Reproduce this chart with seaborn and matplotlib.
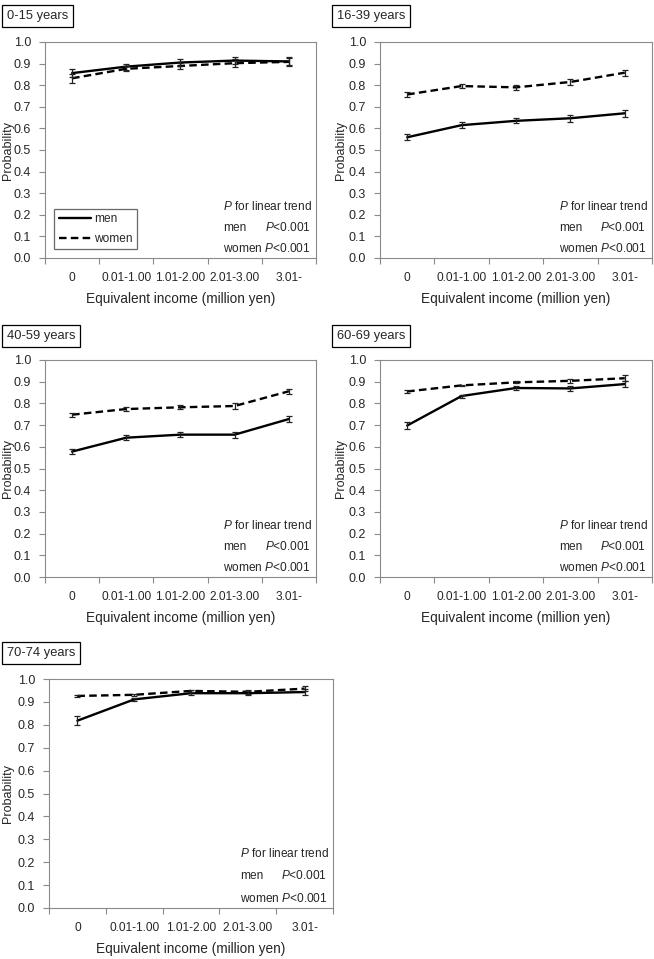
import numpy as np
import pandas as pd
import matplotlib
matplotlib.use("Agg")
import matplotlib.pyplot as plt
import seaborn as sns

categories = ["0", "0.01-1.00", "1.01-2.00", "2.01-3.00", "3.01-"]
panels = ["0-15 years", "16-39 years", "40-59 years", "60-69 years", "70-74 years"]

men_0_15 = [0.856, 0.886, 0.905, 0.914, 0.910]
women_0_15 = [0.832, 0.876, 0.889, 0.902, 0.908]
men_err_0_15 = [0.020, 0.014, 0.014, 0.016, 0.020]
women_err_0_15 = [0.020, 0.012, 0.014, 0.018, 0.016]

men_16_39 = [0.559, 0.615, 0.635, 0.647, 0.670]
women_16_39 = [0.757, 0.796, 0.790, 0.815, 0.858]
men_err_16_39 = [0.014, 0.013, 0.011, 0.016, 0.015]
women_err_16_39 = [0.012, 0.010, 0.010, 0.014, 0.014]

men_40_59 = [0.578, 0.642, 0.656, 0.656, 0.728]
women_40_59 = [0.748, 0.774, 0.782, 0.788, 0.856]
men_err_40_59 = [0.010, 0.012, 0.011, 0.014, 0.014]
women_err_40_59 = [0.010, 0.008, 0.010, 0.014, 0.011]

men_60_69 = [0.698, 0.834, 0.871, 0.869, 0.889]
women_60_69 = [0.855, 0.883, 0.897, 0.904, 0.916]
men_err_60_69 = [0.016, 0.007, 0.007, 0.010, 0.012]
women_err_60_69 = [0.006, 0.004, 0.004, 0.008, 0.013]

men_70_74 = [0.818, 0.911, 0.938, 0.938, 0.943]
women_70_74 = [0.926, 0.931, 0.948, 0.944, 0.958]
men_err_70_74 = [0.020, 0.007, 0.006, 0.009, 0.015]
women_err_70_74 = [0.004, 0.004, 0.005, 0.008, 0.012]

men_all = [men_0_15, men_16_39, men_40_59, men_60_69, men_70_74]
women_all = [women_0_15, women_16_39, women_40_59, women_60_69, women_70_74]
men_err_all = [men_err_0_15, men_err_16_39, men_err_40_59, men_err_60_69, men_err_70_74]
women_err_all = [women_err_0_15, women_err_16_39, women_err_40_59, women_err_60_69, women_err_70_74]

sns.set_theme(style="white")
plt.rcParams["font.family"] = ["Liberation Sans", "DejaVu Sans"]
plt.rcParams["mathtext.fontset"] = "custom"
plt.rcParams["mathtext.rm"] = "Liberation Sans"
plt.rcParams["mathtext.it"] = "Liberation Sans:italic"

W, H = 654, 959
fig = plt.figure(figsize=(W / 100, H / 100), dpi=100)
renderer = fig.canvas.get_renderer()

# pixel boxes: left, right, top(1.0), bottom(0.0)
boxes = [
    (45, 316, 42, 258),
    (380, 652, 42, 258),
    (45, 316, 360, 577),
    (380, 652, 360, 577),
    (49, 333, 679, 908),
]
title_pos = [(3, 4), (333, 4), (3, 324), (333, 324), (3, 641)]
ylabel_right = [14, 347, 14, 347, 14]

spine_c = "#8a8a8a"
fs = 8.6

for i, (l, r, t, b) in enumerate(boxes):
    ax = fig.add_axes([l / W, 1 - b / H, (r - l) / W, (b - t) / H])
    n = len(categories)
    df = pd.DataFrame({
        "pos": list(range(n)) * 2,
        "prob": men_all[i] + women_all[i],
        "err": men_err_all[i] + women_err_all[i],
        "sex": ["men"] * n + ["women"] * n,
    })
    sns.lineplot(data=df, x="pos", y="prob", style="sex",
                 dashes={"men": "", "women": (3.2, 1.8)},
                 color="black", linewidth=1.7, ax=ax, legend=(i == 0))
    for sex in ["men", "women"]:
        d = df[df["sex"] == sex]
        ax.errorbar(d["pos"], d["prob"], yerr=d["err"], fmt="none",
                    ecolor="#222222", elinewidth=0.9, capsize=2.5, capthick=0.9, zorder=3)

    ax.set_xlim(-0.5, n - 0.5)
    ax.set_ylim(0, 1.0)
    ax.set_yticks(np.arange(0, 1.01, 0.1))
    ax.set_yticklabels([f"{v:.1f}" for v in np.arange(0, 1.01, 0.1)], fontsize=fs + 0.4)
    ax.set_xticks(np.arange(-0.5, n, 1.0))
    ax.set_xticklabels([])
    ax.set_xticks(range(n), minor=True)
    ax.set_xticklabels(categories, minor=True, fontsize=fs)
    ax.tick_params(axis="x", which="major", direction="out", length=4, width=0.8,
                   color=spine_c, bottom=True)
    ax.tick_params(axis="x", which="minor", length=0, pad=10, bottom=True)
    ax.tick_params(axis="y", direction="out", length=4, width=0.8, color=spine_c,
                   pad=6, left=True)
    for s in ax.spines.values():
        s.set_color(spine_c)
        s.set_linewidth(0.8)
        s.set_visible(True)
    ax.set_xlabel("Equivalent income (million yen)", fontsize=9.8, labelpad=6)
    ax.set_ylabel("Probability", fontsize=fs + 0.4)
    ax.yaxis.set_label_coords((ylabel_right[i] - l) / (r - l), 0.5)
    ax.grid(False)

    # trend annotation
    xl = 0.657 if i < 4 else 0.672
    ys = [0.237, 0.140, 0.043]
    ax.text(xl, ys[0], r"$\it{P}$ for linear trend", transform=ax.transAxes,
            fontsize=fs, ha="left", va="center")
    tw = ax.text(xl, ys[2], r"women $\it{P}$<0.001", transform=ax.transAxes,
                 fontsize=fs, ha="left", va="center")
    ax.text(xl, ys[1], "men", transform=ax.transAxes, fontsize=fs, ha="left", va="center")
    bb = tw.get_window_extent(renderer=renderer)
    xr = ax.transAxes.inverted().transform((bb.x1, bb.y0))[0]
    ax.text(xr, ys[1], r"$\it{P}$<0.001", transform=ax.transAxes, fontsize=fs,
            ha="right", va="center")

    if i == 0:
        leg = ax.legend(loc="lower left", bbox_to_anchor=(0.035, 0.04), fontsize=fs,
                        title=None, frameon=True, fancybox=False, handlelength=2.7,
                        borderpad=0.35, labelspacing=0.65, handletextpad=0.3,
                        borderaxespad=0.0)
        leg.get_frame().set_edgecolor("#444444")
        leg.get_frame().set_linewidth(0.9)
        for h in leg.get_lines():
            h.set_linewidth(1.7)

    tx, ty = title_pos[i]
    fig.text(tx / W + 0.006, 1 - (ty + 12) / H, panels[i], fontsize=9.3, ha="left", va="center",
             bbox=dict(boxstyle="square,pad=0.38", facecolor="white", edgecolor="black",
                       linewidth=0.9))

fig.savefig("out.png", dpi=100)
